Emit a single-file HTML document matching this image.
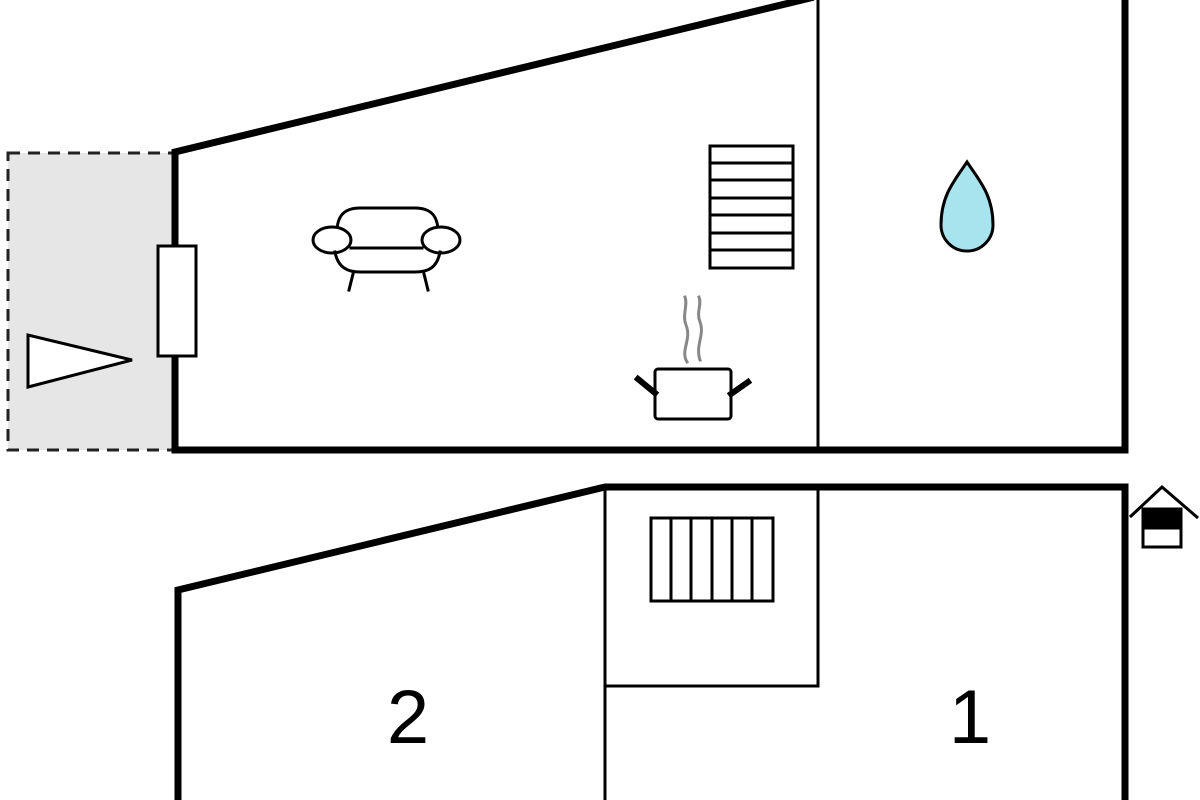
<!DOCTYPE html>
<html><head><style>html,body{margin:0;padding:0;background:#fff}svg{display:block}</style></head>
<body>
<svg width="1200" height="800" viewBox="0 0 1200 800" xmlns="http://www.w3.org/2000/svg">
<rect x="8" y="153" width="167" height="297" fill="#e6e6e6" stroke="#222" stroke-width="3" stroke-dasharray="12,8"/>
<g stroke="#000" fill="none" stroke-linecap="square">
<polyline points="175,450 175,152 810,-2" stroke-width="7"/>
<line x1="175" y1="450" x2="1125" y2="450" stroke-width="7"/>
<line x1="1125" y1="0" x2="1125" y2="450" stroke-width="7"/>
<line x1="818" y1="0" x2="818" y2="450" stroke-width="3"/>
<rect x="158" y="246" width="38" height="110" fill="#fff" stroke-width="3"/>
<polygon points="28,335 28,387 132,360" fill="#fff" stroke-width="3"/>
<rect x="710" y="146" width="83" height="122" stroke-width="3"/>
<path d="M710 163H793M710 180H793M710 198H793M710 215H793M710 233H793M710 250H793" stroke-width="3"/>
<path d="M967 162 C955 180 941 195 941 225 A26 26 0 0 0 993 225 C993 195 979 180 967 162Z" fill="#a8e4ee" stroke-width="3"/>
<!-- sofa -->
<path d="M337 232 C337 215 345 208 360 208 H415 C430 208 438 215 438 232" stroke-width="3"/>
<ellipse cx="332" cy="240" rx="19" ry="13" fill="#fff" stroke-width="3"/>
<ellipse cx="441" cy="240" rx="19" ry="13" fill="#fff" stroke-width="3"/>
<line x1="351" y1="248" x2="422" y2="248" stroke-width="3"/>
<path d="M335 252 C338 268 348 272 360 272 H415 C428 272 437 268 440 252" stroke-width="3"/>
<path d="M353 274 L349 290 M424 274 L428 290" stroke-width="3"/>
<!-- pot -->
<path d="M687 362 C680 350 692 340 686 325 C682 315 688 305 685 297 M700 360 C695 345 705 335 700 322 C696 312 702 305 699 297" stroke="#888" stroke-width="3"/>
<rect x="655" y="369" width="76" height="50" rx="3" fill="#fff" stroke-width="3"/>
<path d="M638 379 L655 393 M748 382 L731 394" stroke-width="6"/>
<!-- bottom -->
<polyline points="178,800 178,590 605,487 1125,487 1125,800" stroke-width="7" stroke-linecap="butt"/>
<line x1="605" y1="487" x2="605" y2="800" stroke-width="3"/>
<polyline points="818,487 818,686 605,686" stroke-width="3"/>
<rect x="651" y="518" width="122" height="83" stroke-width="3"/>
<path d="M671 518V601M691 518V601M712 518V601M732 518V601M752 518V601" stroke-width="3"/>
<!-- house -->
<polyline points="1130,517 1162,487 1198,518" stroke-width="3" stroke-linecap="butt"/>
<rect x="1143" y="509" width="38" height="38" fill="#fff" stroke-width="3"/>
<rect x="1143" y="509" width="38" height="19" fill="#000" stroke-width="3"/>
</g>
<text x="408" y="743" font-family="Liberation Sans, sans-serif" font-size="76" text-anchor="middle" fill="#000">2</text>
<text x="970" y="743" font-family="Liberation Sans, sans-serif" font-size="76" text-anchor="middle" fill="#000">1</text>
</svg>
</body></html>
